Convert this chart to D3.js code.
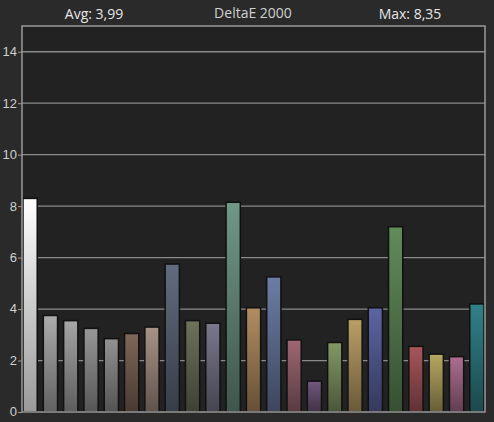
<!DOCTYPE html>
<html><head><meta charset="utf-8">
<script src="https://cdn.jsdelivr.net/npm/d3@7"></script>
<style>body{margin:0;background:#2a2a2a;}</style>
</head><body>
<div id="chart"></div>
<script>
const values = [8.3, 3.75, 3.55, 3.25, 2.85, 3.05, 3.3, 5.75, 3.55, 3.45, 8.15, 4.05, 5.25, 2.8, 1.2, 2.7, 3.6, 4.05, 7.2, 2.55, 2.25, 2.15, 4.2];
const colors = ["#ffffff", "#a0a0a0", "#9a9a9a", "#8e8e8e", "#888888", "#765f52", "#9c897d", "#5a6576", "#666a55", "#727083",
  "#678e7e", "#a6835a", "#65749a", "#93606b", "#6a5274", "#7a8e5e", "#ae9460", "#565e98", "#5a8254", "#9c5055", "#aa9b5a", "#a06686", "#2d7880"];
const yTicks = [0, 2, 4, 6, 8, 10, 12, 14];

const width = 494, height = 422;
const margin = {top: 26, right: 9, bottom: 10, left: 22};
const innerWidth = width - margin.left - margin.right;
const innerHeight = height - margin.top - margin.bottom;

const svg = d3.select("#chart").append("svg")
  .attr("width", width).attr("height", height)
  .style("font-family", "'Open Sans', sans-serif");
svg.append("rect").attr("width", width).attr("height", height).attr("fill", "#2a2a2a");

const xScale = d3.scaleBand().domain(d3.range(values.length)).range([0, innerWidth]).paddingInner(0.3).paddingOuter(0.05);
const yScale = d3.scaleLinear().domain([0, 15]).range([innerHeight, 0]);

const defs = svg.append("defs");
colors.forEach((c, i) => {
  const g = defs.append("linearGradient").attr("id", `g${i}`).attr("x1", 0).attr("y1", 0).attr("x2", 0).attr("y2", 1);
  g.append("stop").attr("offset", "0%").attr("stop-color", d3.color(c).brighter(0.2));
  g.append("stop").attr("offset", "100%").attr("stop-color", i === 0 ? "#999" : d3.color(c).darker(1.4));
});

const chart = svg.append("g").attr("transform", `translate(${margin.left}, ${margin.top})`);
chart.append("rect").attr("width", innerWidth).attr("height", innerHeight).attr("fill", "#222222");

chart.selectAll("line.grid").data(yTicks.slice(1)).join("line")
  .attr("class", "grid")
  .attr("x1", 0).attr("x2", innerWidth)
  .attr("y1", d => yScale(d)).attr("y2", d => yScale(d))
  .attr("stroke", "#8a8a8a").attr("stroke-width", 1.3);

chart.selectAll("rect.bar").data(values).join("rect")
  .attr("class", "bar")
  .attr("x", (d, i) => xScale(i))
  .attr("width", xScale.bandwidth())
  .attr("y", d => yScale(d))
  .attr("height", d => innerHeight - yScale(d))
  .attr("fill", (d, i) => `url(#g${i})`)
  .attr("stroke", "#111").attr("stroke-width", 1.5);

chart.append("rect").attr("width", innerWidth).attr("height", innerHeight)
  .attr("fill", "none").attr("stroke", "#9a9a9a").attr("stroke-width", 1.5);

const leftAxis = d3.axisLeft(yScale).tickValues(yTicks).tickSize(4).tickPadding(1);
chart.append("g").call(leftAxis)
  .call(g => g.select(".domain").remove())
  .call(g => g.selectAll("line").attr("stroke", "#9a9a9a"))
  .call(g => g.selectAll("text").attr("fill", "#cfcfcf").style("font-size", "13px").attr("dy", "0.3em"));

svg.append("text").text("Avg: 3,99").attr("x", 94).attr("y", 19).attr("text-anchor", "middle").attr("fill", "#e6e6e6").style("font-size", "14px");
svg.append("text").text("DeltaE 2000").attr("x", 253).attr("y", 18).attr("text-anchor", "middle").attr("fill", "#d0d0d0").style("font-size", "14px");
svg.append("text").text("Max: 8,35").attr("x", 410).attr("y", 19).attr("text-anchor", "middle").attr("fill", "#e6e6e6").style("font-size", "14px");
</script>
</body></html>
